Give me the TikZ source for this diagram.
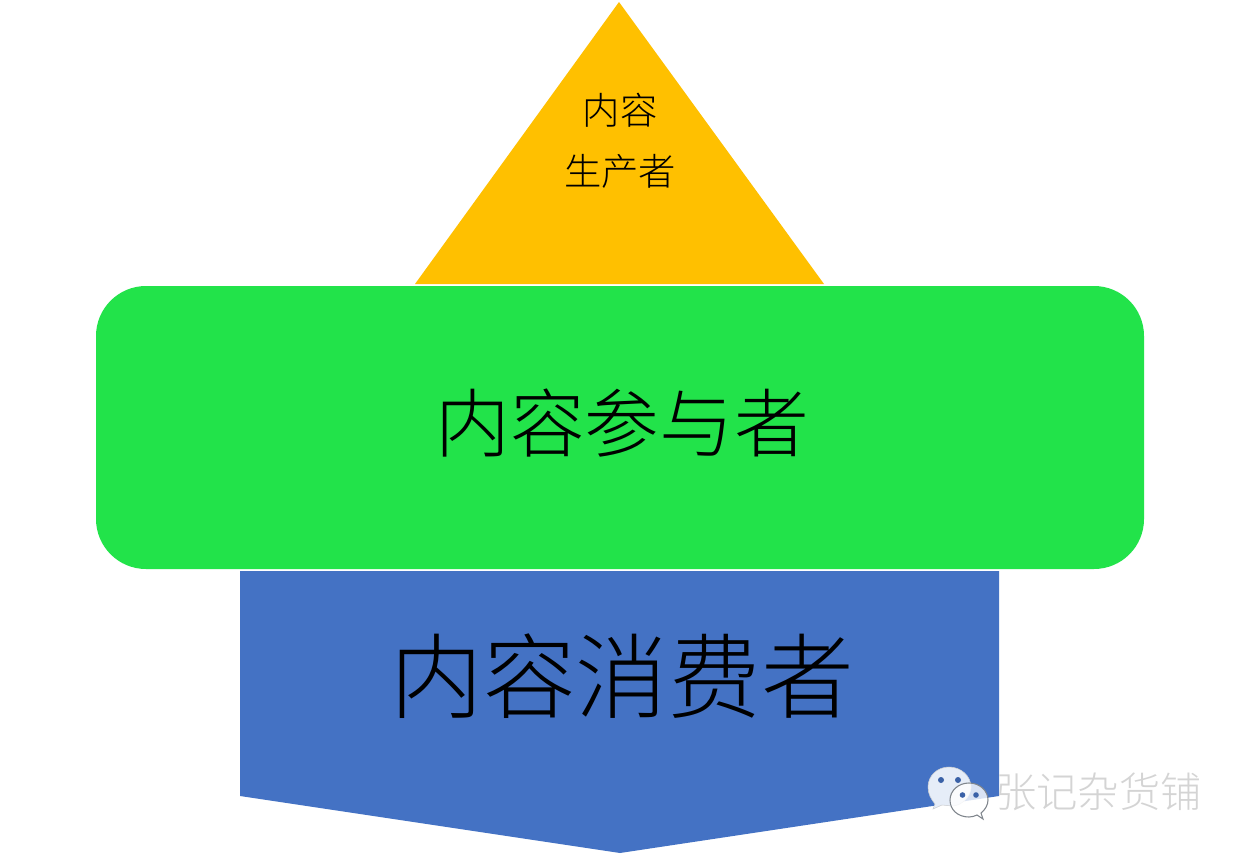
\documentclass[tikz,border=0pt]{standalone}
\usepackage{fontspec}
\setmainfont{Noto Sans CJK SC}[UprightFont=* Light]
\definecolor{amberfill}{HTML}{FFC000}
\definecolor{greenfill}{HTML}{22E34A}
\definecolor{bluefill}{HTML}{4472C4}
\definecolor{bubblefill}{HTML}{E6EDF8}
\definecolor{bubbleedge}{HTML}{7F858C}
\definecolor{wmtext}{HTML}{D4D4D4}
\tikzset{
  px/.style={x=0.75pt,y=-0.75pt},
  label/.style={text=black,inner sep=0pt,align=center},
  eye/.style={fill=bluefill!85!black,draw=none},
}
\begin{document}
\begin{tikzpicture}[px]
\useasboundingbox (0,0) rectangle (1239,856);
\fill[white] (0,0) rectangle (1239,856);
% shapes
\fill[amberfill] (619,2) -- (824,284) -- (415,284) -- cycle;
\fill[bluefill] (240,571) -- (999,571) -- (999,796) -- (620,853) -- (240,796) -- cycle;
\node[fill=greenfill,rounded corners=37.5pt,minimum width=786pt,minimum height=212.25pt,inner sep=0pt,label] (mid) at (620,427.5) {};
% labels
\node[label,font=\fontsize{28}{46}\selectfont] (top) at (620,141) {内容\\生产者};
\node[label,font=\fontsize{56}{60}\selectfont] (midtext) at (622,423) {内容参与者};
\node[label,font=\fontsize{69.5}{74}\selectfont] (bot) at (622,676) {内容消费者};
% watermark icon
\fill[bubblefill,draw=bubbleedge!40,line width=0.4pt]
  (935,804) -- (933,809) -- (942,805) -- (952,806)
  .. controls (962,806) and (971,796) .. (971,787)
  .. controls (971,776) and (961,767) .. (949,767)
  .. controls (937,767) and (928,776) .. (928,787)
  .. controls (928,794) and (931,799) .. (935,804) -- cycle;
\fill[white,fill opacity=0.8,draw=bubbleedge,line width=0.8pt]
  (969,783) .. controls (958,783) and (950,791) .. (950,800)
  .. controls (950,810) and (958,817) .. (969,817)
  .. controls (972,817) and (975,816) .. (977,815) -- (983,819) -- (981,813)
  .. controls (985,810) and (988,805) .. (988,800)
  .. controls (988,791) and (980,783) .. (969,783) -- cycle;
\fill[eye] (941,780) circle (3);
\fill[eye] (958,780) circle (3);
\fill[eye] (962.5,795) circle (2.8);
\fill[eye] (976,795) circle (2.8);
\node[label,text=wmtext,font=\fontsize{31}{33}\selectfont] (wm) at (1098.5,792) {张记杂货铺};
\end{tikzpicture}
\end{document}
